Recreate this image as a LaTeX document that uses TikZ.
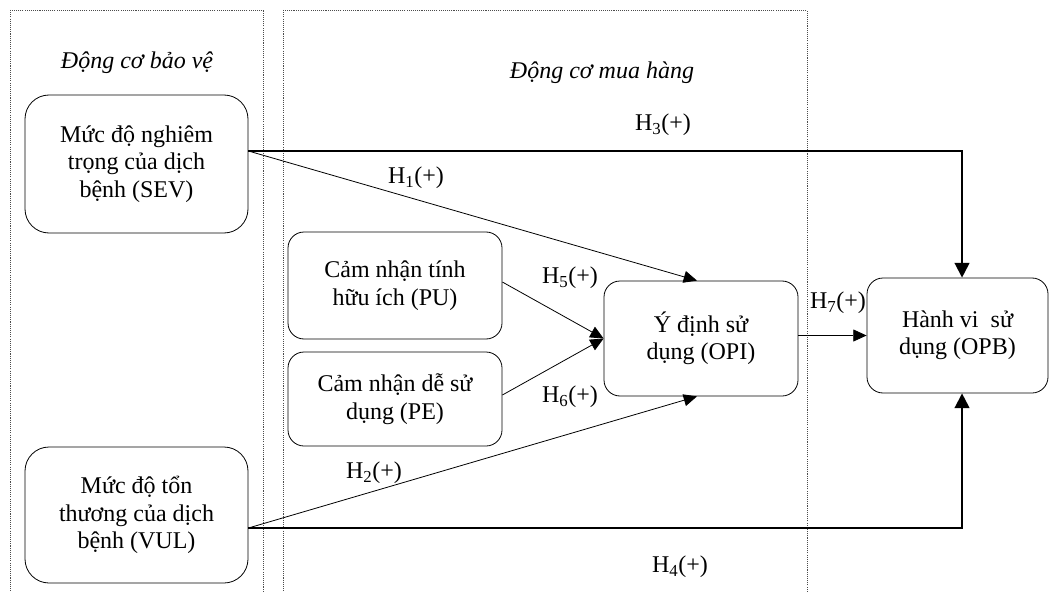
\documentclass[tikz,border=0pt]{standalone}
\usepackage{fontspec}
\setmainfont{Liberation Serif}
\usetikzlibrary{arrows.meta,calc}
\begin{document}
\begin{tikzpicture}[x=0.75pt,y=-0.75pt,
  panel/.style={draw=black!70,line width=0.5pt,dash pattern=on 0.8pt off 0.8pt},
  cbox/.style={draw,line width=0.6pt,align=center,inner sep=0pt,
    font=\fontsize{18}{20.6}\selectfont},
  lbl/.style={inner sep=0pt,font=\fontsize{18}{20.6}\selectfont},
  head/.style={inner sep=0pt,font=\fontsize{18}{20.6}\selectfont\itshape},
  thin/.style={line width=0.6pt,-{Triangle[length=10pt,width=9pt]}},
  thick/.style={line width=1.5pt,-{Triangle[length=11pt,width=11pt]}}]
\useasboundingbox (0,0) rectangle (1050,592);
% panels
\draw[panel] (10,10) rectangle (263,600);
\draw[panel] (283,10) rectangle (807,600);
\node[head] (hA) at (137,63) {Động cơ bảo vệ};
\node[head] (hB) at (602,73) {Động cơ mua hàng};
% boxes
\node[cbox,rounded corners=18pt,minimum width=167.25pt,minimum height=103.5pt] (SEV) at (136.5,164)
  {Mức độ nghiêm\\trọng của dịch\\bệnh (SEV)};
\node[cbox,rounded corners=18pt,minimum width=167.25pt,minimum height=102pt] (VUL) at (136.5,515)
  {Mức độ tổn\\thương của dịch\\bệnh (VUL)};
\node[cbox,rounded corners=12pt,minimum width=160.5pt,minimum height=80.25pt] (PU) at (395,285.5)
  {Cảm nhận tính\\hữu ích (PU)};
\node[cbox,rounded corners=12pt,minimum width=160.5pt,minimum height=70.5pt] (PE) at (395,399)
  {Cảm nhận dễ sử\\dụng (PE)};
\node[cbox,rounded corners=12pt,minimum width=145.5pt,minimum height=86.25pt] (OPI) at (701,338.5)
  {Ý định sử\\dụng (OPI)};
\node[cbox,rounded corners=12pt,minimum width=135.75pt,minimum height=86.25pt] (OPB) at (957.5,335.5)
  {Hành vi~ sử\\dụng (OPB)};
% connectors
\coordinate (s1) at ([yshift=9.75pt]SEV.east);
\coordinate (v1) at ([yshift=-9.75pt]VUL.east);
\draw[thick] (s1) -| ([xshift=3.4pt]OPB.north);
\draw[thick] (v1) -| ([xshift=3.4pt]OPB.south);
\draw[thin] (s1) -- ([xshift=-3pt]OPI.north);
\draw[thin] (v1) -- ([xshift=-3pt]OPI.south);
\draw[thin] ([yshift=2.6pt]PU.east) -- (OPI.west);
\draw[thin] ([yshift=3pt]PE.east) -- (OPI.west);
\draw[thin] (OPI.east |- OPB.west) -- (OPB.west);
% labels
\node[lbl] (L1) at (416,178) {H\textsubscript{1}(+)};
\node[lbl] (L2) at (374,473) {H\textsubscript{2}(+)};
\node[lbl] (L3) at (663,125) {H\textsubscript{3}(+)};
\node[lbl] (L4) at (680,567) {H\textsubscript{4}(+)};
\node[lbl] (L5) at (570,278) {H\textsubscript{5}(+)};
\node[lbl] (L6) at (570,397) {H\textsubscript{6}(+)};
\node[lbl] (L7) at (838,303) {H\textsubscript{7}(+)};
\end{tikzpicture}
\end{document}
